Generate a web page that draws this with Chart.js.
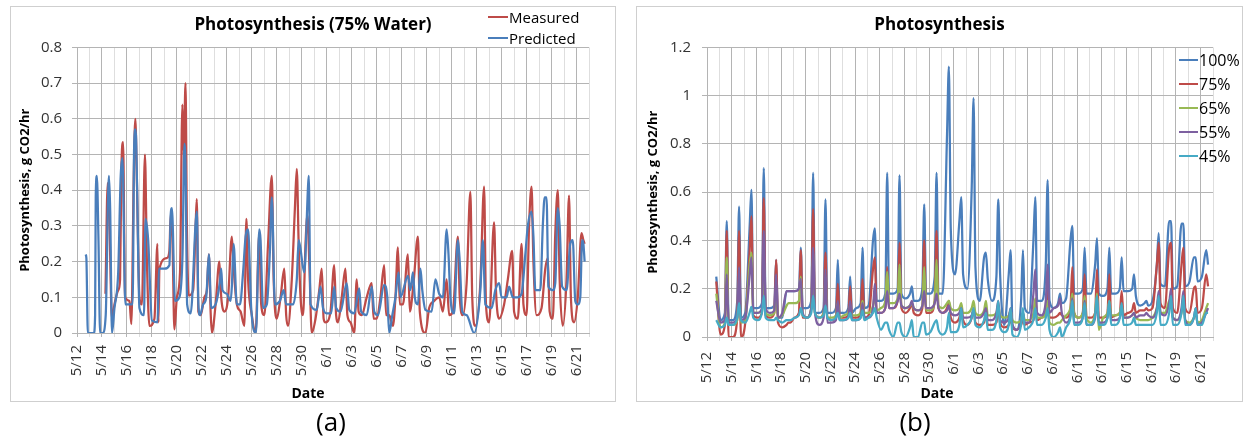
<!DOCTYPE html>
<html>
<head>
<meta charset="utf-8">
<script src="https://cdn.jsdelivr.net/npm/chart.js@4.4.0/dist/chart.umd.min.js"></script>
<style>
  body { margin: 0; background: #fff; width: 1244px; height: 443px; position: relative; overflow: hidden; font-family: 'Open Sans', sans-serif; }
  .panel { position: absolute; top: 6px; height: 394px; border: 1px solid #cfcfcf; }
  .panel canvas { position: absolute; left: 0; top: 0; }
  .txt { position: absolute; transform: translate(-50%, -50%); white-space: nowrap; color: #000; }
  .axisName { font-weight: bold; font-size: 14px; }
  .caption { font-size: 26px; }
  .legend { position: absolute; color: #000; }
  .legend .row { display: flex; align-items: center; }
  .legend .swatch { display: inline-block; height: 2px; margin-right: 1px; }
</style>
</head>
<body>
<div class="panel" style="left:10px; width:604px;"><canvas id="chartA" width="604" height="394"></canvas></div>
<div class="panel" style="left:636px; width:605px;"><canvas id="chartB" width="605" height="394"></canvas></div>
<div class="txt axisName" style="left:308px; top:392px;">Date</div>
<div class="txt axisName" style="left:937px; top:392px;">Date</div>
<div class="txt caption" style="left:331px; top:421px;">(a)</div>
<div class="txt caption" style="left:915px; top:421px;">(b)</div>
<div class="legend" id="legendA" style="left:488px; top:6px; font-size:15px;"></div>
<div class="legend" id="legendB" style="left:1179px; top:48px; font-size:16px;"></div>

<script>
// x axis runs in days from 5/12; labels every second day
const dateLabels = ['5/12', '5/14', '5/16', '5/18', '5/20', '5/22', '5/24', '5/26', '5/28', '5/30',
  '6/1', '6/3', '6/5', '6/7', '6/9', '6/11', '6/13', '6/15', '6/17', '6/19', '6/21'];

// (a) 75% water: [day, g CO2/hr]
const measured = [
  [2.28,0.11],[2.46,0.42],[2.6,0.30],[2.8,0.04],[3.0,0.08],[3.3,0.12],[3.45,0.15],[3.55,0.45],[3.69,0.535],[3.85,0.10],
  [4.2,0.09],[4.35,0.025],[4.55,0.45],[4.67,0.60],[4.8,0.42],[5.0,0.10],[5.2,0.08],[5.44,0.50],[5.6,0.20],[5.8,0.02],
  [6.2,0.04],[6.44,0.25],[6.52,0.03],[6.6,0.18],[7.2,0.21],[7.4,0.23],[7.5,0.33],[7.65,0.25],[7.8,0.01],[8.0,0.10],
  [8.25,0.17],[8.44,0.64],[8.55,0.50],[8.69,0.70],[8.8,0.30],[8.95,0.105],[9.3,0.12],[9.5,0.30],[9.59,0.375],[9.72,0.06],
  [9.9,0.05],[10.2,0.10],[10.4,0.12],[10.56,0.22],[10.7,0.06],[10.8,0.0],[11.1,0.08],[11.4,0.20],[11.55,0.10],[11.8,0.06],
  [12.1,0.10],[12.4,0.27],[12.55,0.18],[12.8,0.08],[13.1,0.06],[13.4,0.02],[13.56,0.32],[13.7,0.15],[14.0,0.05],[14.3,0.0],
  [14.6,0.28],[14.75,0.08],[15.0,0.05],[15.3,0.25],[15.6,0.44],[15.75,0.15],[16.0,0.04],[16.3,0.10],[16.6,0.18],[16.75,0.05],
  [16.9,0.02],[17.2,0.15],[17.45,0.35],[17.6,0.46],[17.75,0.25],[17.9,0.10],[18.1,0.05],[18.3,0.25],[18.45,0.33],[18.6,0.20],
  [18.8,0.0],[19.1,0.04],[19.4,0.12],[19.6,0.18],[19.75,0.04],[19.9,0.03],[20.3,0.06],[20.6,0.19],[20.75,0.05],[20.9,0.03],
  [21.2,0.10],[21.5,0.18],[21.65,0.05],[21.9,0.03],[22.2,0.0],[22.4,0.15],[22.55,0.06],[22.8,0.05],[23.2,0.10],[23.6,0.14],
  [23.75,0.04],[24.0,0.04],[24.3,0.10],[24.6,0.19],[24.75,0.05],[25.0,0.05],[25.3,0.02],[25.5,0.10],[25.7,0.24],[25.85,0.08],
  [26.1,0.08],[26.5,0.22],[26.65,0.06],[26.95,0.14],[27.3,0.27],[27.45,0.06],[27.9,0.0],[28.2,0.07],[28.6,0.09],[29.0,0.10],
  [29.3,0.06],[29.6,0.15],[29.8,0.05],[30.1,0.06],[30.5,0.27],[30.65,0.10],[30.9,0.05],[31.2,0.14],[31.5,0.395],[31.65,0.10],
  [31.9,0.02],[32.3,0.14],[32.6,0.41],[32.75,0.08],[33.0,0.03],[33.4,0.31],[33.55,0.12],[33.8,0.04],[34.2,0.08],[34.5,0.15],
  [34.85,0.23],[35.0,0.06],[35.3,0.04],[35.6,0.25],[35.75,0.08],[36.0,0.05],[36.2,0.30],[36.4,0.41],[36.55,0.20],[36.8,0.05],
  [37.2,0.07],[37.5,0.18],[37.7,0.21],[37.85,0.06],[38.1,0.04],[38.3,0.28],[38.5,0.40],[38.65,0.15],[38.9,0.02],[39.2,0.15],
  [39.4,0.385],[39.55,0.10],[39.8,0.03],[40.1,0.10],[40.4,0.28],[40.55,0.26],[40.65,0.25]
];

const predicted = [
  [0.69,0.22],[0.75,0.21],[0.87,0],[1.35,0],[1.45,0.05],[1.5,0.38],[1.59,0.44],[1.72,0.26],[1.85,0],[2.05,0],
  [2.3,0.05],[2.5,0.40],[2.56,0.44],[2.66,0.34],[2.8,0],[3.0,0.07],[3.3,0.17],[3.5,0.44],[3.64,0.49],[3.87,0.08],
  [4.2,0.08],[4.45,0.08],[4.6,0.57],[4.7,0.57],[4.8,0.43],[5.0,0.07],[5.36,0.05],[5.49,0.32],[5.7,0.26],[6.0,0.035],
  [6.45,0.03],[6.56,0.18],[7.0,0.18],[7.4,0.19],[7.5,0.33],[7.6,0.35],[7.85,0.09],[8.2,0.10],[8.45,0.22],[8.6,0.53],
  [8.7,0.45],[8.82,0.08],[9.1,0.055],[9.6,0.34],[9.72,0.08],[9.85,0.05],[10.1,0.08],[10.35,0.10],[10.56,0.22],[10.75,0.07],
  [11.1,0.08],[11.43,0.14],[11.55,0.18],[11.65,0.12],[12.0,0.11],[12.3,0.09],[12.4,0.13],[12.54,0.25],[12.8,0.08],[13.05,0.08],
  [13.3,0.17],[13.5,0.27],[13.7,0.29],[13.95,0.07],[14.33,0],[14.6,0.29],[14.7,0.26],[14.9,0.07],[15.2,0.08],[15.45,0.23],
  [15.6,0.38],[15.85,0.08],[16.25,0.09],[16.55,0.12],[16.75,0.08],[17.3,0.08],[17.6,0.15],[17.75,0.26],[18.2,0.17],[18.5,0.41],
  [18.56,0.44],[18.7,0.08],[19.2,0.065],[19.5,0.13],[19.7,0.07],[20.0,0.055],[20.35,0.055],[20.6,0.13],[20.75,0.07],[21.1,0.06],
  [21.6,0.14],[21.8,0.065],[22.2,0.055],[22.6,0.125],[22.75,0.06],[23.2,0.05],[23.6,0.13],[23.8,0.06],[24.1,0.05],[24.6,0.135],
  [24.85,0.1],[25.0,0],[25.25,0.05],[25.5,0.1],[25.75,0.17],[25.9,0.1],[26.5,0.16],[26.7,0.12],[26.9,0.17],[27.05,0.1],
  [27.3,0.08],[27.5,0.18],[27.65,0.12],[27.9,0.065],[28.4,0.06],[28.7,0.15],[29.0,0.11],[29.3,0.10],[29.6,0.29],[29.75,0.22],
  [29.9,0.1],[30.2,0.055],[30.5,0.26],[30.65,0.2],[30.85,0.06],[31.2,0.05],[31.8,0],[32.3,0.12],[32.5,0.26],[32.7,0.08],
  [33.2,0.07],[33.5,0.12],[33.8,0.14],[34.0,0.10],[34.4,0.10],[34.6,0.13],[34.9,0.10],[35.3,0.10],[35.6,0.11],[35.9,0.22],
  [36.1,0.30],[36.4,0.34],[36.55,0.27],[36.7,0.12],[37.1,0.12],[37.3,0.30],[37.45,0.38],[37.6,0.38],[37.75,0.13],[38.1,0.12],
  [38.3,0.14],[38.5,0.35],[38.65,0.30],[38.85,0.13],[39.2,0.12],[39.5,0.25],[39.7,0.26],[39.9,0.09],[40.1,0.08],[40.3,0.10],
  [40.45,0.26],[40.55,0.25],[40.65,0.20]
];

// (b) water levels: four readings a day, at these fractions of the day
const sampleTimes = [0.1, 0.45, 0.6, 0.75];

const water100 = [
  null,null,null,0.25, 0.07,0.10,0.48,0.07, 0.07,0.15,0.54,0.08, 0.10,0.45,0.61,0.12, 0.12,0.14,0.70,0.12,
  0.12,0.13,0.32,0.08, 0.08,0.19,0.19,0.19, 0.19,0.20,0.37,0.12, 0.12,0.15,0.68,0.10, 0.10,0.12,0.57,0.10,
  0.10,0.12,0.32,0.10, 0.10,0.12,0.25,0.10, 0.12,0.14,0.37,0.12, 0.13,0.40,0.45,0.15, 0.15,0.18,0.68,0.18,
  0.18,0.20,0.67,0.18, 0.16,0.18,0.21,0.15, 0.15,0.20,0.55,0.18, 0.18,0.25,0.68,0.18, 0.18,0.84,1.12,0.45,
  0.26,0.48,0.58,0.26, 0.20,0.62,0.99,0.29, 0.15,0.33,0.35,0.24, 0.15,0.25,0.57,0.26, 0.05,0.26,0.36,0.05,
  0.03,0.15,0.36,0.12, 0.10,0.40,0.58,0.15, 0.15,0.30,0.65,0.15, 0.12,0.14,0.18,0.14, 0.16,0.40,0.46,0.18,
  0.18,0.20,0.37,0.18, 0.18,0.30,0.41,0.18, 0.17,0.20,0.37,0.18, 0.18,0.20,0.33,0.19, 0.19,0.20,0.26,0.17,
  0.13,0.14,0.15,0.13, 0.15,0.30,0.43,0.22, 0.21,0.48,0.48,0.20, 0.21,0.47,0.47,0.21, 0.23,0.33,0.33,0.23,
  0.25,0.36,0.30,null
];
const water75 = [
  null,null,null,0.23, 0.01,0.05,0.44,0.00, 0.00,0.08,0.44,0.00, 0.06,0.35,0.50,0.09, 0.08,0.10,0.575,0.09,
  0.08,0.10,0.32,0.06, 0.04,0.05,0.06,0.06, 0.08,0.10,0.36,0.08, 0.08,0.12,0.53,0.10, 0.08,0.10,0.35,0.08,
  0.07,0.08,0.22,0.08, 0.08,0.09,0.21,0.08, 0.08,0.10,0.24,0.08, 0.09,0.28,0.33,0.10, 0.10,0.12,0.29,0.12,
  0.12,0.15,0.39,0.12, 0.10,0.12,0.14,0.10, 0.09,0.12,0.40,0.10, 0.10,0.15,0.44,0.12, 0.10,0.12,0.15,0.08,
  0.06,0.08,0.12,0.07, 0.05,0.08,0.12,0.06, 0.05,0.06,0.10,0.05, 0.05,0.06,0.12,0.06, 0.04,0.05,0.08,0.04,
  0.03,0.05,0.07,0.05, 0.06,0.07,0.12,0.07, 0.08,0.10,0.20,0.08, 0.08,0.09,0.10,0.09, 0.08,0.12,0.29,0.10,
  0.08,0.10,0.26,0.08, 0.08,0.10,0.28,0.08, 0.08,0.10,0.26,0.08, 0.09,0.10,0.19,0.09, 0.10,0.11,0.14,0.10,
  0.11,0.11,0.12,0.11, 0.12,0.30,0.39,0.14, 0.12,0.37,0.39,0.12, 0.10,0.30,0.37,0.12, 0.10,0.20,0.21,0.10,
  0.12,0.26,0.21,null
];
const water65 = [
  null,null,null,0.18, 0.04,0.06,0.33,0.05, 0.05,0.07,0.25,0.06, 0.07,0.30,0.35,0.10, 0.10,0.11,0.34,0.10,
  0.09,0.10,0.20,0.08, 0.09,0.13,0.14,0.14, 0.14,0.15,0.25,0.09, 0.08,0.12,0.35,0.10, 0.08,0.10,0.25,0.08,
  0.08,0.09,0.14,0.08, 0.09,0.10,0.13,0.09, 0.09,0.10,0.15,0.10, 0.10,0.13,0.17,0.11, 0.12,0.15,0.27,0.14,
  0.14,0.16,0.30,0.13, 0.12,0.13,0.14,0.12, 0.11,0.13,0.29,0.11, 0.11,0.15,0.32,0.13, 0.12,0.14,0.15,0.12,
  0.11,0.12,0.14,0.10, 0.10,0.12,0.15,0.10, 0.09,0.11,0.15,0.09, 0.09,0.10,0.13,0.09, 0.08,0.09,0.11,0.07,
  0.06,0.07,0.10,0.07, 0.07,0.10,0.16,0.08, 0.08,0.10,0.15,0.06, 0.05,0.06,0.06,0.07, 0.09,0.12,0.18,0.10,
  0.08,0.10,0.17,0.08, 0.06,0.10,0.18,0.03, 0.08,0.10,0.15,0.09, 0.09,0.10,0.13,0.08, 0.08,0.09,0.10,0.08,
  0.07,0.07,0.07,0.07, 0.08,0.12,0.17,0.10, 0.10,0.15,0.16,0.08, 0.07,0.10,0.15,0.07, 0.06,0.08,0.10,0.06,
  0.07,0.12,0.14,null
];
const water55 = [
  null,null,null,0.15, 0.06,0.07,0.26,0.06, 0.06,0.08,0.29,0.07, 0.08,0.25,0.33,0.10, 0.10,0.12,0.44,0.12,
  0.10,0.11,0.26,0.08, 0.10,0.19,0.19,0.19, 0.19,0.20,0.24,0.10, 0.08,0.12,0.37,0.10, 0.05,0.08,0.28,0.06,
  0.06,0.07,0.15,0.07, 0.07,0.08,0.15,0.07, 0.07,0.08,0.14,0.08, 0.08,0.12,0.22,0.10, 0.10,0.12,0.19,0.12,
  0.12,0.15,0.18,0.13, 0.12,0.13,0.15,0.12, 0.11,0.13,0.19,0.12, 0.12,0.14,0.18,0.12, 0.10,0.11,0.13,0.10,
  0.09,0.10,0.12,0.08, 0.08,0.09,0.11,0.08, 0.08,0.10,0.12,0.07, 0.07,0.10,0.15,0.07, 0.06,0.08,0.12,0.05,
  0.03,0.06,0.10,0.06, 0.06,0.18,0.28,0.10, 0.09,0.15,0.30,0.10, 0.12,0.13,0.16,0.10, 0.06,0.09,0.16,0.06,
  0.06,0.08,0.15,0.05, 0.05,0.08,0.16,0.06, 0.06,0.08,0.14,0.07, 0.07,0.08,0.12,0.08, 0.08,0.09,0.10,0.08,
  0.09,0.09,0.10,0.09, 0.08,0.12,0.19,0.10, 0.09,0.14,0.20,0.08, 0.07,0.12,0.19,0.07, 0.05,0.08,0.12,0.05,
  0.06,0.10,0.12,null
];
const water45 = [
  null,null,null,0.07, 0.04,0.05,0.08,0.05, 0.05,0.08,0.14,0.07, 0.06,0.10,0.125,0.08, 0.07,0.10,0.17,0.08,
  0.07,0.07,0.08,0.07, 0.06,0.07,0.07,0.07, 0.08,0.09,0.12,0.09, 0.08,0.10,0.17,0.10, 0.08,0.09,0.13,0.08,
  0.07,0.08,0.10,0.07, 0.07,0.08,0.10,0.07, 0.07,0.08,0.11,0.07, 0.08,0.10,0.12,0.08, 0.03,0.06,0.06,0.03,
  0.00,0.06,0.06,0.02, 0.00,0.04,0.07,0.00, 0.00,0.06,0.06,0.01, 0.02,0.06,0.07,0.03, 0.01,0.04,0.10,0.02,
  0.02,0.05,0.12,0.04, 0.05,0.08,0.12,0.05, 0.04,0.07,0.10,0.03, 0.03,0.07,0.15,0.04, 0.02,0.05,0.12,0.01,
  0.00,0.05,0.12,0.03, 0.04,0.07,0.12,0.05, 0.05,0.08,0.12,0.03, 0.00,0.02,0.04,0.00, 0.04,0.08,0.15,0.05,
  0.05,0.08,0.14,0.05, 0.05,0.09,0.17,0.05, 0.05,0.08,0.15,0.05, 0.05,0.08,0.14,0.05, 0.05,0.06,0.08,0.05,
  0.05,0.05,0.05,0.05, 0.05,0.10,0.17,0.05, 0.05,0.10,0.17,0.05, 0.05,0.10,0.17,0.05, 0.05,0.08,0.12,0.05,
  0.05,0.10,0.10,null
];

const seriesA = [
  { name: 'Measured', color: '#be4b48', values: measured },
  { name: 'Predicted', color: '#4a7ebb', values: predicted }
];
const seriesB = [
  { name: '100%', color: '#4a7ebb', values: water100 },
  { name: '75%', color: '#be4b48', values: water75 },
  { name: '65%', color: '#98b954', values: water65 },
  { name: '55%', color: '#7d60a0', values: water55 },
  { name: '45%', color: '#46aac5', values: water45 }
];

const FONT = "'Open Sans', sans-serif";

function pairsToPoints(pairs) {
  return pairs.map(([x, y]) => ({ x, y }));
}

function dailyToPoints(values) {
  const pts = [];
  values.forEach((v, i) => {
    if (v === null) return;
    const day = Math.floor(i / sampleTimes.length);
    pts.push({ x: day + sampleTimes[i % sampleTimes.length], y: v });
  });
  return pts;
}

function dateTick(value) {
  if (value % 2 !== 0) return '';
  const lbl = dateLabels[value / 2];
  if (!lbl) return '';
  // pad short dates so the rotated labels line up at the bottom
  return lbl.length < 4 ? '\u2007' + lbl : lbl;
}

function makeChart(id, cfg) {
  const gridDark = '#b4b4b4';
  const gridLight = '#dedede';
  return new Chart(document.getElementById(id), {
    type: 'line',
    data: { datasets: cfg.datasets },
    options: {
      responsive: false,
      animation: false,
      events: [],
      layout: { padding: { left: 5, right: 5, top: 0, bottom: 0 } },
      plugins: {
        legend: { display: false },
        tooltip: { enabled: false },
        title: {
          display: true,
          text: cfg.title,
          color: '#000',
          font: { family: FONT, size: 17, weight: 'bold' },
          padding: { top: 8, bottom: 12 }
        }
      },
      elements: {
        line: { borderWidth: 2.25, cubicInterpolationMode: 'monotone' },
        point: { radius: 0 }
      },
      scales: {
        x: {
          type: 'linear',
          min: 0,
          max: 41,
          afterFit: s => { s.height = cfg.xHeight; },
          ticks: {
            stepSize: 1,
            autoSkip: false,
            minRotation: 90,
            maxRotation: 90,
            padding: cfg.xPad,
            color: '#333',
            font: { family: FONT, size: 15 },
            callback: dateTick
          },
          grid: {
            color: c => (c.tick && c.tick.value % 2 === 0) ? gridDark : gridLight,
            tickLength: 4,
            lineWidth: 1
          },
          border: { color: gridDark }
        },
        y: {
          min: 0,
          max: cfg.yMax,
          afterFit: s => { s.width = cfg.yWidth; },
          ticks: {
            stepSize: cfg.yStep,
            padding: cfg.yPad,
            color: '#333',
            font: { family: FONT, size: 15 },
            callback: v => String(Number(v.toFixed(1)))
          },
          grid: { color: gridDark, tickLength: 5 },
          border: { color: gridDark },
          title: {
            display: true,
            text: 'Photosynthesis, g CO2/hr',
            color: '#000',
            font: { family: FONT, size: 13, weight: 'bold' },
            padding: { top: cfg.yTitlePad, bottom: 0 }
          }
        }
      }
    }
  });
}

// (a) predicted drawn over measured
makeChart('chartA', {
  title: 'Photosynthesis (75% Water)',
  yMax: 0.8, yStep: 0.1, yWidth: 61, yPad: 10, yTitlePad: 1,
  xHeight: 68, xPad: 8,
  datasets: seriesA.map((s, i) => ({
    label: s.name,
    data: pairsToPoints(s.values),
    borderColor: s.color,
    order: seriesA.length - i
  }))
});

// (b) later series sit on top
makeChart('chartB', {
  title: 'Photosynthesis',
  yMax: 1.2, yStep: 0.2, yWidth: 65, yPad: 11, yTitlePad: 3,
  xHeight: 64, xPad: 11,
  datasets: seriesB.map((s, i) => ({
    label: s.name,
    data: dailyToPoints(s.values),
    borderColor: s.color,
    order: seriesB.length - i
  }))
});

function buildLegend(id, series, rowHeight, swatchWidth) {
  const box = document.getElementById(id);
  series.forEach(s => {
    const row = document.createElement('div');
    row.className = 'row';
    row.style.height = rowHeight + 'px';
    const sw = document.createElement('span');
    sw.className = 'swatch';
    sw.style.width = swatchWidth + 'px';
    sw.style.background = s.color;
    const label = document.createElement('span');
    label.textContent = s.name;
    row.appendChild(sw);
    row.appendChild(label);
    box.appendChild(row);
  });
}

buildLegend('legendA', seriesA, 21, 20);
buildLegend('legendB', seriesB, 24, 19);
</script>
</body>
</html>
